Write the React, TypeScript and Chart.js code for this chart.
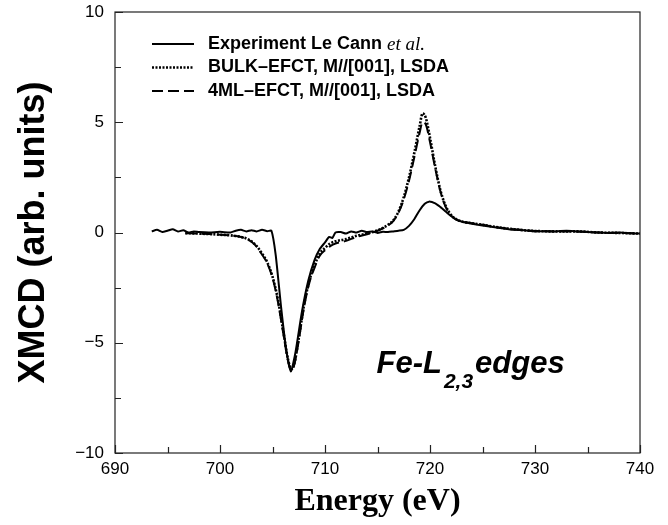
import React, { useEffect, useRef } from "react";
import { Chart, registerables } from "chart.js";

Chart.register(...registerables);

// ---------- data ----------
const expEnergy = [
  693.5, 694.0, 694.5, 695.0, 695.5, 696.0, 696.5, 697.0, 697.5, 698.0, 699.0, 700.0, 701.0, 701.5,
  702.0, 702.5, 703.0, 703.5, 704.0, 704.5, 704.9, 705.3, 705.8, 706.3, 706.75, 707.2, 707.8, 708.4,
  709.0, 709.5, 710.0, 710.4, 710.7, 711.0, 711.5, 712.0, 712.5, 713.0, 713.5, 714.0, 714.5, 715.0,
  715.5, 716.0, 716.5, 717.0, 717.5, 718.0, 718.5, 719.0, 719.5, 719.9, 720.5, 721.0, 721.5, 722.0,
  722.5, 723.0, 724.0, 725.0, 726.0, 727.0, 728.0, 729.0, 730.0, 731.0, 732.0, 733.0, 734.0, 735.0,
  736.0, 737.0, 738.0, 739.0, 740.0,
];
const expXmcd = [
  0.05, 0.12, 0.02, 0.08, 0.15, 0.05, 0.1, 0.0, 0.05, 0.02, 0.0, 0.03, 0.0, 0.08,
  0.12, 0.05, 0.1, 0.05, 0.12, 0.06, 0.08, -1.0, -3.3, -5.3, -6.3, -5.4, -3.6, -2.2,
  -1.25, -0.75, -0.45, -0.2, -0.25, 0.0, 0.02, -0.05, 0.05, 0.0, 0.08, 0.02, 0.05, -0.02,
  0.03, 0.02, 0.05, 0.08, 0.12, 0.3, 0.6, 1.0, 1.3, 1.4, 1.32, 1.15, 0.95, 0.75,
  0.6, 0.5, 0.4, 0.32, 0.25, 0.18, 0.12, 0.1, 0.05, 0.06, 0.05, 0.08, 0.05, 0.02,
  0.0, -0.02, 0.0, -0.03, -0.05,
];

const calcEnergy = [
  696.7, 698.0, 699.0, 700.0, 701.0, 702.0, 702.5, 703.0, 703.5, 704.0, 704.5, 705.0, 705.5, 706.0,
  706.5, 706.8, 707.1, 707.5, 708.0, 708.5, 709.0, 709.5, 710.0, 710.5, 711.0, 712.0, 713.0, 714.0,
  715.0, 716.0, 716.5, 717.0, 717.5, 718.0, 718.5, 719.0, 719.3, 719.6, 720.0, 720.5, 721.0, 721.5,
  722.0, 722.5, 723.0, 724.0, 725.0, 726.0, 727.0, 728.0, 729.0, 730.0, 732.0, 734.0, 736.0, 738.0,
  740.0,
];
const bulkXmcd = [
  -0.03, -0.05, -0.07, -0.1, -0.13, -0.2, -0.27, -0.4, -0.62, -0.95, -1.35, -2.0, -3.0, -4.4,
  -5.8, -6.2, -5.9, -4.8, -3.3, -2.2, -1.5, -0.95, -0.7, -0.5, -0.4, -0.3, -0.15, -0.05,
  0.1, 0.35, 0.55, 0.95, 1.6, 2.5, 3.6, 4.8, 5.4, 5.2, 4.3, 3.0, 1.9, 1.2,
  0.8, 0.6, 0.5, 0.42, 0.35, 0.27, 0.2, 0.15, 0.1, 0.07, 0.05, 0.05, 0.0, -0.02,
  -0.05,
];
const ml4Xmcd = [
  -0.03, -0.05, -0.07, -0.1, -0.14, -0.2, -0.28, -0.42, -0.65, -1.0, -1.4, -2.05, -3.1, -4.5,
  -5.85, -6.25, -5.95, -4.9, -3.4, -2.3, -1.6, -1.05, -0.8, -0.62, -0.5, -0.38, -0.2, -0.08,
  0.08, 0.32, 0.52, 0.9, 1.5, 2.35, 3.4, 4.5, 5.0, 4.9, 4.1, 2.9, 1.85, 1.15,
  0.78, 0.58, 0.5, 0.42, 0.35, 0.27, 0.2, 0.15, 0.1, 0.07, 0.05, 0.05, 0.0, -0.02,
  -0.05,
];

const seriesLabels = [
  "Experiment Le Cann et al.",
  "BULK\u2013EFCT, M//[001], LSDA",
  "4ML\u2013EFCT, M//[001], LSDA",
];
const xTickValues = [690, 700, 710, 720, 730, 740];
const yTickValues = [-10, -5, 0, 5, 10];
const xTitle = "Energy (eV)";
const yTitle = "XMCD (arb. units)";
const annotationMain = "Fe-L";
const annotationSub = "2,3";
const annotationTail = "edges";

const SANS = '"Liberation Sans", Arial, Helvetica, sans-serif';
const SERIF = '"Liberation Serif", "Times New Roman", serif';

const toPoints = (xs: number[], ys: number[]) => xs.map((x, i) => ({ x, y: ys[i] }));

// ---------- plugins ----------
const framePlugin = {
  id: "frameTicks",
  afterDraw(chart: any) {
    const { ctx, chartArea: a, scales } = chart;
    ctx.save();
    ctx.strokeStyle = "#222";
    ctx.lineWidth = 1.2;
    ctx.strokeRect(a.left, a.top, a.right - a.left, a.bottom - a.top);
    ctx.beginPath();
    for (let v = 690; v <= 740; v += 5) {
      const px = Math.round(scales.x.getPixelForValue(v)) + 0.5;
      const len = v % 10 === 0 ? 8 : 6;
      ctx.moveTo(px, a.bottom);
      ctx.lineTo(px, a.bottom - len);
    }
    for (let v = -10; v <= 10; v += 2.5) {
      const py = Math.round(scales.y.getPixelForValue(v)) + 0.5;
      const len = v % 5 === 0 ? 8 : 6;
      ctx.moveTo(a.left, py);
      ctx.lineTo(a.left + len, py);
    }
    ctx.stroke();
    ctx.restore();
  },
};

const legendPlugin = {
  id: "customLegend",
  afterDraw(chart: any) {
    const { ctx, chartArea: a } = chart;
    const ds = chart.data.datasets;
    ctx.save();
    const x0 = a.left + 37;
    const x1 = a.left + 79;
    const tx = a.left + 93;
    ds.forEach((d: any, i: number) => {
      const y = a.top + 32 + i * 23.5;
      ctx.beginPath();
      ctx.strokeStyle = "#000";
      ctx.lineWidth = d.borderWidth;
      ctx.setLineDash(d.borderDash || []);
      ctx.moveTo(x0, y);
      ctx.lineTo(x1, y);
      ctx.stroke();
      ctx.setLineDash([]);
      ctx.fillStyle = "#000";
      ctx.textBaseline = "middle";
      const label: string = d.label;
      const idx = label.indexOf("et al.");
      if (idx >= 0) {
        const head = label.slice(0, idx);
        ctx.font = `bold 18px ${SANS}`;
        ctx.fillText(head, tx, y);
        const w = ctx.measureText(head).width;
        ctx.font = `italic 19px ${SERIF}`;
        ctx.fillText(label.slice(idx), tx + w, y + 1);
      } else {
        ctx.font = `bold 18px ${SANS}`;
        ctx.fillText(label, tx, y);
      }
    });
    ctx.restore();
  },
};

const annotationPlugin = {
  id: "edgeLabel",
  afterDraw(chart: any) {
    const { ctx, scales } = chart;
    ctx.save();
    ctx.fillStyle = "#000";
    ctx.textBaseline = "alphabetic";
    let x = scales.x.getPixelForValue(714.9);
    const y = scales.y.getPixelForValue(-6.35);
    ctx.font = `italic bold 31px ${SANS}`;
    ctx.fillText(annotationMain, x, y);
    x += ctx.measureText(annotationMain).width + 2;
    ctx.font = `italic bold 21px ${SANS}`;
    ctx.fillText(annotationSub, x, y + 15);
    x += ctx.measureText(annotationSub).width + 2;
    ctx.font = `italic bold 31px ${SANS}`;
    ctx.fillText(annotationTail, x, y);
    ctx.restore();
  },
};

export default function App() {
  const ref = useRef<HTMLCanvasElement | null>(null);

  useEffect(() => {
    if (!ref.current) return;
    const chart = new Chart(ref.current, {
      type: "line",
      data: {
        datasets: [
          {
            label: seriesLabels[0],
            data: toPoints(expEnergy, expXmcd),
            borderColor: "#000",
            borderWidth: 2,
            pointRadius: 0,
            tension: 0.2,
          },
          {
            label: seriesLabels[1],
            data: toPoints(calcEnergy, bulkXmcd),
            borderColor: "#000",
            borderWidth: 2.6,
            borderDash: [2, 1.5],
            pointRadius: 0,
            cubicInterpolationMode: "monotone",
          },
          {
            label: seriesLabels[2],
            data: toPoints(calcEnergy, ml4Xmcd),
            borderColor: "#000",
            borderWidth: 2,
            borderDash: [11, 5],
            pointRadius: 0,
            cubicInterpolationMode: "monotone",
          },
        ],
      },
      options: {
        animation: false,
        responsive: false,
        layout: { padding: { top: 12, right: 28, left: 0, bottom: 0 } },
        plugins: { legend: { display: false }, tooltip: { enabled: false } },
        scales: {
          x: {
            type: "linear",
            min: 690,
            max: 740,
            afterBuildTicks: (s: any) => {
              s.ticks = xTickValues.map((v) => ({ value: v }));
            },
            afterFit: (s: any) => {
              s.height = 72;
              s.paddingLeft = 0;
              s.paddingRight = 0;
            },
            grid: { display: false, drawTicks: false },
            border: { display: false },
            ticks: {
              color: "#000",
              font: { family: SANS, size: 17 },
              padding: 6,
              maxRotation: 0,
            },
            title: {
              display: true,
              text: xTitle,
              color: "#000",
              font: { family: SERIF, size: 32, weight: "bold" },
              padding: { top: 0, bottom: 4 },
            },
          },
          y: {
            type: "linear",
            min: -10,
            max: 10,
            afterBuildTicks: (s: any) => {
              s.ticks = yTickValues.map((v) => ({ value: v }));
            },
            afterFit: (s: any) => {
              s.width = 115;
              s.paddingTop = 0;
              s.paddingBottom = 0;
            },
            grid: { display: false, drawTicks: false },
            border: { display: false },
            ticks: {
              color: "#000",
              font: { family: SANS, size: 17 },
              padding: 11,
              callback: (v: any) => (Number(v) < 0 ? "\u2212" + Math.abs(Number(v)) : String(v)),
            },
            title: {
              display: true,
              text: yTitle,
              color: "#000",
              font: { family: SANS, size: 36, weight: "bold" },
              padding: { top: 12, bottom: 0 },
            },
          },
        },
      },
      plugins: [framePlugin, legendPlugin, annotationPlugin],
    } as any);
    return () => chart.destroy();
  }, []);

  return (
    <div style={{ position: "fixed", left: 0, top: 0, width: 668, height: 525, background: "#fff" }}>
      <canvas ref={ref} width={668} height={525} style={{ width: 668, height: 525, display: "block" }} />
    </div>
  );
}
